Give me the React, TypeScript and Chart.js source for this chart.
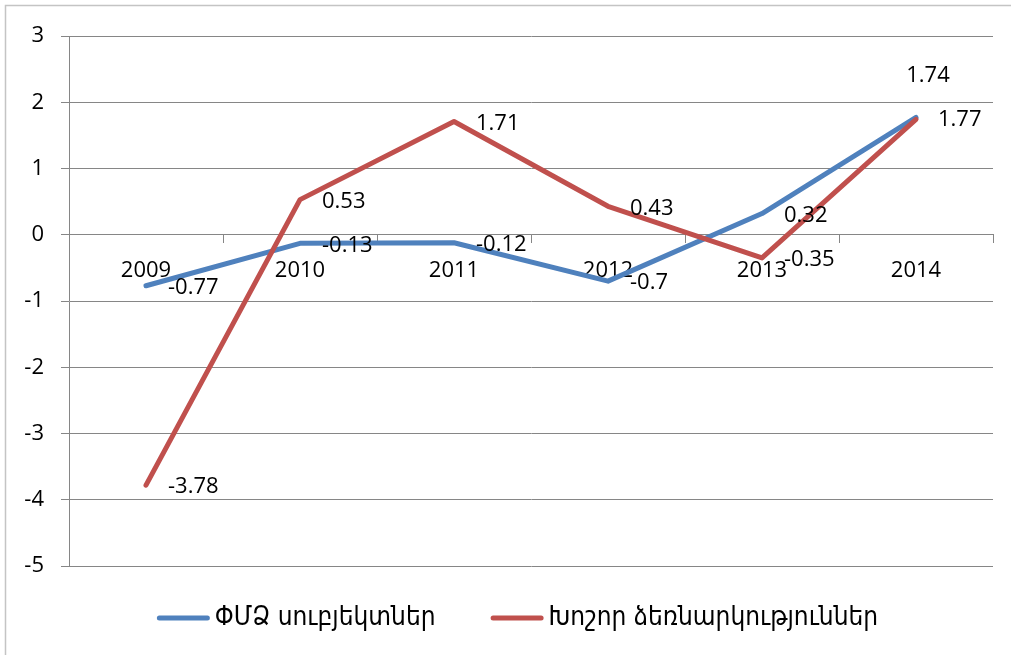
import { useEffect, useRef } from 'react';
import { Chart, registerables } from 'chart.js';

Chart.register(...registerables);

const categories = ['2009', '2010', '2011', '2012', '2013', '2014'];
const smeValues = [-0.77, -0.13, -0.12, -0.7, 0.32, 1.77];
const largeValues = [-3.78, 0.53, 1.71, 0.43, -0.35, 1.74];
const seriesNames = ['ՓՄՁ սուբյեկտներ', 'Խոշոր ձեռնարկություններ'];
const seriesColors = ['#4F81BD', '#C0504D'];
const smeLabelPlacement = ['right', 'right', 'right', 'right', 'right', 'right'];
const largeLabelPlacement = ['right', 'right', 'right', 'right', 'right', 'above'];
const yMin = -5;
const yMax = 3;
const yStep = 1;

const W = 1011;
const H = 655;
const GRID = '#868686';
const NUM_FONT = "22px 'Open Sans'";
const LEGEND_FONT = "26px 'DejaVu Sans Condensed', 'DejaVu Sans'";

const framePlugin = {
  id: 'frame',
  beforeDraw(chart: any) {
    const ctx = chart.ctx;
    ctx.save();
    ctx.fillStyle = '#ffffff';
    ctx.fillRect(0, 0, W, H);
    ctx.strokeStyle = '#c4c4c4';
    ctx.lineWidth = 1.5;
    ctx.strokeRect(5.5, 5.5, W + 10, H + 10);
    ctx.restore();
  },
};

const valueLabelPlugin = {
  id: 'valueLabels',
  afterDatasetsDraw(chart: any) {
    const ctx = chart.ctx;
    ctx.save();
    ctx.font = NUM_FONT;
    ctx.fillStyle = '#000000';
    chart.data.datasets.forEach((ds: any, di: number) => {
      const meta = chart.getDatasetMeta(di);
      meta.data.forEach((el: any, i: number) => {
        const place = ds.labelPlacement ? ds.labelPlacement[i] : 'right';
        const text = String(ds.data[i]);
        if (place === 'above') {
          ctx.textAlign = 'center';
          ctx.textBaseline = 'middle';
          ctx.fillText(text, el.x + 12, el.y - 44);
        } else {
          ctx.textAlign = 'left';
          ctx.textBaseline = 'middle';
          ctx.fillText(text, el.x + 22, el.y + 2);
        }
      });
    });
    ctx.restore();
  },
};

const legendPlugin = {
  id: 'customLegend',
  afterDraw(chart: any) {
    const ctx = chart.ctx;
    ctx.save();
    ctx.font = LEGEND_FONT;
    const lineLen = 53;
    const gap = 5;
    const itemGap = 55;
    const widths = chart.data.datasets.map((ds: any) => ctx.measureText(ds.label).width);
    let total = 0;
    widths.forEach((w: number, i: number) => {
      total += lineLen + gap + w + (i > 0 ? itemGap : 0);
    });
    let x = 517.5 - total / 2;
    const y = 618;
    chart.data.datasets.forEach((ds: any, i: number) => {
      if (i > 0) x += itemGap;
      ctx.strokeStyle = ds.borderColor;
      ctx.lineWidth = 5;
      ctx.lineCap = 'round';
      ctx.beginPath();
      ctx.moveTo(x + 2.5, y);
      ctx.lineTo(x + lineLen - 2.5, y);
      ctx.stroke();
      x += lineLen + gap;
      ctx.fillStyle = '#000000';
      ctx.textAlign = 'left';
      ctx.textBaseline = 'middle';
      ctx.fillText(ds.label, x, y);
      x += widths[i];
    });
    ctx.restore();
  },
};

export default function App() {
  const ref = useRef<HTMLCanvasElement | null>(null);

  useEffect(() => {
    if (!ref.current) return;
    const chart = new Chart(ref.current, {
      type: 'line',
      data: {
        labels: categories,
        datasets: [
          {
            label: seriesNames[0],
            data: smeValues,
            borderColor: seriesColors[0],
            backgroundColor: seriesColors[0],
            borderWidth: 5,
            borderCapStyle: 'round',
            borderJoinStyle: 'round',
            pointRadius: 0,
            tension: 0,
            order: 1,
            labelPlacement: smeLabelPlacement,
          } as any,
          {
            label: seriesNames[1],
            data: largeValues,
            borderColor: seriesColors[1],
            backgroundColor: seriesColors[1],
            borderWidth: 5,
            borderCapStyle: 'round',
            borderJoinStyle: 'round',
            pointRadius: 0,
            tension: 0,
            order: 0,
            labelPlacement: largeLabelPlacement,
          } as any,
        ],
      },
      options: {
        responsive: false,
        animation: false,
        layout: { padding: { left: 0, top: 36, right: 18, bottom: 89 } },
        plugins: {
          legend: { display: false },
          tooltip: { enabled: false },
        },
        scales: {
          x: {
            type: 'category',
            position: { y: 0 } as any,
            offset: true,
            grid: {
              drawOnChartArea: false,
              drawTicks: true,
              tickLength: 8,
              color: GRID,
              offset: true,
            },
            border: { display: true, color: GRID, width: 1 },
            ticks: {
              color: '#000000',
              font: { family: 'Open Sans', size: 22 },
              padding: 15,
              maxRotation: 0,
              autoSkip: false,
            },
          },
          y: {
            min: yMin,
            max: yMax,
            ticks: {
              stepSize: yStep,
              color: '#000000',
              font: { family: 'Open Sans', size: 22 },
              padding: 17,
            },
            grid: { color: GRID, tickLength: 8, lineWidth: 1 },
            border: { display: true, color: GRID, width: 1 },
            afterFit(scale: any) {
              scale.width = 69;
            },
          },
        },
      },
      plugins: [framePlugin, valueLabelPlugin, legendPlugin],
    });
    return () => chart.destroy();
  }, []);

  return (
    <div style={{ position: 'fixed', left: 0, top: 0, width: W, height: H, background: '#fff' }}>
      <canvas ref={ref} width={W} height={H} style={{ width: W, height: H, display: 'block' }} />
    </div>
  );
}
